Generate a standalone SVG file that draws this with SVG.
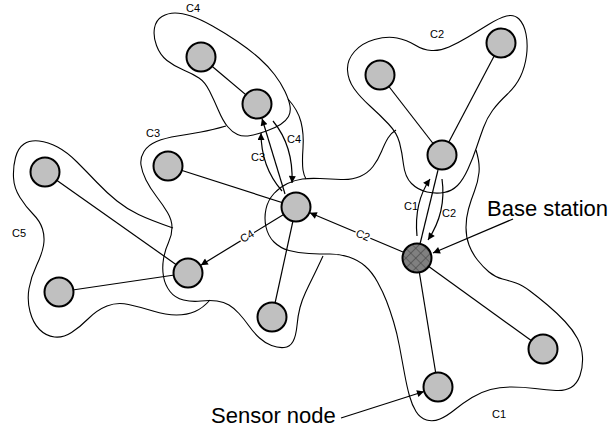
<svg xmlns="http://www.w3.org/2000/svg" width="608" height="432" viewBox="0 0 608 432">
<style>
.outline{fill:none;stroke:#000;stroke-width:1.1}
.edge{fill:none;stroke:#000;stroke-width:1.2}
.arr{fill:none;stroke:#000;stroke-width:1.2;marker-end:url(#ah)}
.node{fill:#c0c0c0;stroke:#000;stroke-width:2}
.bs{fill:url(#hatch);stroke:#000;stroke-width:2}
.sm{font-family:"Liberation Sans",Arial,sans-serif;font-size:11px;fill:#000}
.bg{fill:#fff;stroke:none}
.big{font-family:"Liberation Sans",Arial,sans-serif;font-size:22px;fill:#000}
</style>
<defs>
<marker id="ah" viewBox="0 0 10 10" refX="10" refY="5" markerWidth="9" markerHeight="7" markerUnits="userSpaceOnUse" orient="auto">
<path d="M0,0 L10,5 L0,10 z" fill="#000"/>
</marker>
<pattern id="hatch" patternUnits="userSpaceOnUse" width="7" height="7" patternTransform="rotate(45)">
<rect width="7" height="7" fill="#808080"/>
<path d="M0,0 H7 M0,0 V7" stroke="#404040" stroke-width="1.2"/>
</pattern>
</defs>
<rect width="608" height="432" fill="#fff"/>
<g id="clusters">
<path id="c4-outline" class="outline" d="M156.5,45.5 Q153,36 154.5,28 Q156,20 162,16.5 Q168,13 175,13 Q182,13 191,16 Q200,19 212.5,26 Q225,33 237.5,41.5 Q250,50 259,58 Q268,66 274.5,74.5 Q281,83 285,91.5 Q289,100 290,106 Q291,112 288.5,116.5 Q286,121 280.5,124.5 Q275,128 266.5,131 Q258,134 250.5,135.5 Q243,137 237.5,134.5 Q232,132 227.5,126.5 Q223,121 218.5,110.5 Q214,100 209.5,91 Q205,82 199,78 Q193,74 183.5,70 Q174,66 167,60.5 Q160,55 156.5,45.5 Z"/>
<path id="c3-outline" class="outline" d="M226,126 Q212,130 201,132 Q190,134 177.5,136 Q165,138 156.5,141.5 Q148,145 144,151.5 Q140,158 141,165 Q142,172 146,180 Q150,188 156.5,196.5 Q163,205 167.5,212.5 Q172,220 172,227.5 Q172,235 168.5,242.5 Q165,250 163.5,259 Q162,268 163.5,276.5 Q165,285 170,291.5 Q175,298 183.5,300 Q192,302 201,301 Q210,300 217,301 Q224,302 229,305 Q234,308 239,313.5 Q244,319 249,326 Q254,333 259.5,338 Q265,343 271.5,345.5 Q278,348 284,347.5 Q290,347 293,341.5 Q296,336 297,325.5 Q298,315 300,307.5 Q302,300 305.5,292.5 Q309,285 312.5,278 Q316,271 323,256"/>
<path id="c3-outline-right" class="outline" d="M288,99 Q298,110 301,122 Q304,134 303,148 Q302,162 303,170 Q304,176 306,179"/>
<path id="c2-outline" class="outline" d="M347.5,70 Q347,60 354.5,51.5 Q362,43 374.5,39.5 Q387,36 397,38 Q407,40 415,45 Q423,50 431.5,50.5 Q440,51 449,47 Q458,43 468,37 Q478,31 488.5,24.5 Q499,18 506.5,16 Q514,14 519,19 Q524,24 526,34 Q528,44 526.5,55.5 Q525,67 520.5,76.5 Q516,86 507,94.5 Q498,103 492.5,110.5 Q487,118 483.5,127.5 Q480,137 476.5,147.5 Q473,158 468,169 Q463,180 457.5,185.5 Q452,191 444,192.5 Q436,194 427,192 Q418,190 411.5,183.5 Q405,177 403.5,164.5 Q402,152 399.5,142.5 Q397,133 388.5,124 Q380,115 370,106 Q360,97 354,88.5 Q348,80 347.5,70 Z"/>
<path id="c1-outline" class="outline" d="M476,150 Q480,163 479,172.5 Q478,182 474.5,191 Q471,200 468.5,209 Q466,218 466,227.5 Q466,237 469,245 Q472,253 477.5,260 Q483,267 489,272 Q495,277 502.5,279 Q510,281 516,283 Q522,285 530,291 Q538,297 547.5,305 Q557,313 565,321.5 Q573,330 577.5,338.5 Q582,347 582.5,357 Q583,367 580,375.5 Q577,384 571,387.5 Q565,391 556,390.5 Q547,390 535,388.5 Q523,387 511.5,387 Q500,387 490.5,389.5 Q481,392 472,397.5 Q463,403 455,409.5 Q447,416 440,419 Q433,422 426.5,420 Q420,418 416,411.5 Q412,405 409.5,396 Q407,387 404.5,373.5 Q402,360 399.5,346.5 Q397,333 393.5,321.5 Q390,310 386.5,301 Q383,292 377.5,282 Q372,272 365,266 Q358,260 349,257 Q340,254 330,254 Q320,254 309,253.5 Q298,253 289,250.5 Q280,248 274,242 Q268,236 266,227 Q264,218 266,209 Q268,200 274,193.5 Q280,187 287.5,183.5 Q295,180 302.5,179 Q310,178 320,178.5 Q330,179 341,179.5 Q352,180 360,176.5 Q368,173 373,166.5 Q378,160 381.5,151.5 Q385,143 388,138 Q391,133 396,130"/>
<path id="c5-outline" class="outline" d="M173,228 Q150,220 138.5,214.5 Q127,209 117,201 Q107,193 97,182.5 Q87,172 77,162 Q67,152 57.5,147 Q48,142 39,141 Q30,140 24,144 Q18,148 15.5,157.5 Q13,167 13.5,177.5 Q14,188 20,197.5 Q26,207 33,214 Q40,221 42.5,229 Q45,237 43.5,245.5 Q42,254 36.5,265.5 Q31,277 29,288.5 Q27,300 30,311.5 Q33,323 39.5,329.5 Q46,336 54.5,337 Q63,338 71.5,332.5 Q80,327 88.5,318.5 Q97,310 107,306 Q117,302 128.5,304.5 Q140,307 153,311 Q166,315 176.5,315 Q187,315 195,311.5 Q203,308 210,300"/>
<text class="sm" x="186" y="12">C4</text>
<text class="sm" x="430" y="38">C2</text>
<text class="sm" x="146" y="137">C3</text>
<text class="sm" x="12" y="237">C5</text>
<text class="sm" x="492" y="418">C1</text>
</g>
<g id="connectors">
<line class="edge" x1="201" y1="57" x2="257" y2="104"/>
<line class="edge" x1="168" y1="166" x2="296" y2="207"/>
<line class="edge" x1="296" y1="207" x2="272" y2="317"/>
<line class="edge" x1="45" y1="172" x2="188" y2="273"/>
<line class="edge" x1="59" y1="292" x2="188" y2="273"/>
<line class="edge" x1="380" y1="75" x2="442" y2="155"/>
<line class="edge" x1="501" y1="43" x2="442" y2="155"/>
<line class="edge" x1="417" y1="258" x2="543" y2="349"/>
<line class="edge" x1="417" y1="258" x2="438" y2="387"/>
<line class="edge" x1="420" y1="244" x2="438" y2="170"/>
<line class="arr" x1="283.2" y1="214.8" x2="200.8" y2="265.2"/>
<line class="arr" x1="403" y1="252" x2="309.8" y2="212.8"/>
<line class="arr" x1="285" y1="194" x2="262" y2="118.5"/>
<path class="arr" d="M282,191 C268,175 261,155 261,133"/>
<path class="arr" d="M273,121 C287,138 293,160 292,183"/>
<path class="arr" d="M417,236 C415,215 419,195 430,179"/>
<path class="arr" d="M442,179 C445,200 440,222 428,240"/>
<line class="arr" x1="513" y1="219" x2="433" y2="253"/>
<line class="arr" x1="341" y1="418" x2="424" y2="391.5"/>
<g transform="rotate(-31.4 247 236)">
<rect class="bg" x="239" y="230" width="16" height="12"/>
<text class="sm" x="247" y="240" text-anchor="middle">C4</text>
</g>
<g transform="rotate(22.9 363 235)">
<rect class="bg" x="355" y="229" width="16" height="12"/>
<text class="sm" x="363" y="239" text-anchor="middle">C2</text>
</g>
<text class="sm" x="251" y="161">C3</text>
<text class="sm" x="287" y="143">C4</text>
<text class="sm" x="404" y="210">C1</text>
<text class="sm" x="442" y="217">C2</text>
</g>
<g id="n-c4a"><circle class="node" cx="201" cy="57" r="14.5"/></g>
<g id="n-c4b"><circle class="node" cx="257" cy="104" r="14.5"/></g>
<g id="n-c3a"><circle class="node" cx="168" cy="166" r="14.5"/></g>
<g id="n-hub"><circle class="node" cx="296" cy="207" r="14.5"/></g>
<g id="n-c3b"><circle class="node" cx="272" cy="317" r="14.5"/></g>
<g id="n-l"><circle class="node" cx="188" cy="273" r="14.5"/></g>
<g id="n-c5a"><circle class="node" cx="45" cy="172" r="14.5"/></g>
<g id="n-c5b"><circle class="node" cx="59" cy="292" r="14.5"/></g>
<g id="n-c2a"><circle class="node" cx="380" cy="75" r="14.5"/></g>
<g id="n-c2b"><circle class="node" cx="501" cy="43" r="14.5"/></g>
<g id="n-c2c"><circle class="node" cx="442" cy="155" r="14.5"/></g>
<g id="n-c1r"><circle class="node" cx="543" cy="349" r="14.5"/></g>
<g id="n-c1b"><circle class="node" cx="438" cy="387" r="14.5"/></g>
<g id="n-bs"><circle class="bs" cx="417" cy="258" r="14.5"/></g>
<g id="labels">
<text class="big" x="487" y="216">Base station</text>
<text class="big" x="211" y="423">Sensor node</text>
</g>
</svg>
